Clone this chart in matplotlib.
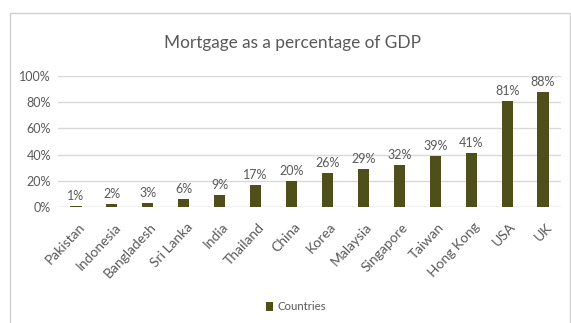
import matplotlib
matplotlib.use("Agg")
import matplotlib.pyplot as plt
from matplotlib.patches import Rectangle

countries = ["Pakistan", "Indonesia", "Bangladesh", "Sri Lanka", "India", "Thailand", "China",
             "Korea", "Malaysia", "Singapore", "Taiwan", "Hong Kong", "USA", "UK"]
values = [1, 2, 3, 6, 9, 17, 20, 26, 29, 32, 39, 41, 81, 88]
yticks = [0, 20, 40, 60, 80, 100]

plt.rcParams['font.family'] = ['Lato', 'DejaVu Sans']
W, H = 571, 323
fig = plt.figure(figsize=(W / 100, H / 100), dpi=100)
bar_color = "#4f4f1b"
text_color = "#595959"

# outer chart border (light gray)
fig.patches.append(Rectangle((10 / W, -0.05), 560 / W, 1 - 13 / H + 0.05, transform=fig.transFigure,
                             fill=False, edgecolor="#d0d0d0", linewidth=1))

ax = fig.add_axes([58 / W, 1 - 207 / H, 503 / W, 131 / H])
x = range(len(countries))
ax.bar(x, values, width=0.31, color=bar_color, zorder=3, label="Countries")
ax.set_xlim(-0.5, len(countries) - 0.5)
ax.set_ylim(0, 100)
ax.set_yticks(yticks)
ax.set_yticklabels([f"{v}%" for v in yticks], color=text_color, fontsize=9)
ax.set_xticks([i + 0.06 for i in x])
ax.set_xticklabels(countries, rotation=47, ha="right", va="top", rotation_mode="anchor",
                   color=text_color, fontsize=10)
ax.tick_params(length=0, pad=5)
ax.tick_params(axis="x", pad=10)
ax.grid(axis="y", color="#d9d9d9", linewidth=1, zorder=0)
for s in ax.spines.values():
    s.set_visible(False)
ax.axhline(0, color="#d9d9d9", linewidth=1, zorder=2)

for i, v in enumerate(values):
    ax.text(i, v + 3, f"{v}%", ha="center", va="bottom", color=text_color, fontsize=9)

fig.text(292 / W, 1 - 43 / H, "Mortgage as a percentage of GDP", ha="center", va="center",
         color=text_color, fontsize=12.4)

fig.legend(loc="center", bbox_to_anchor=(296 / W, 1 - 307 / H), frameon=False, fontsize=8.2,
           handlelength=0.6, handleheight=0.9, handletextpad=0.35, labelcolor=text_color)

fig.savefig("out.png", dpi=100)
